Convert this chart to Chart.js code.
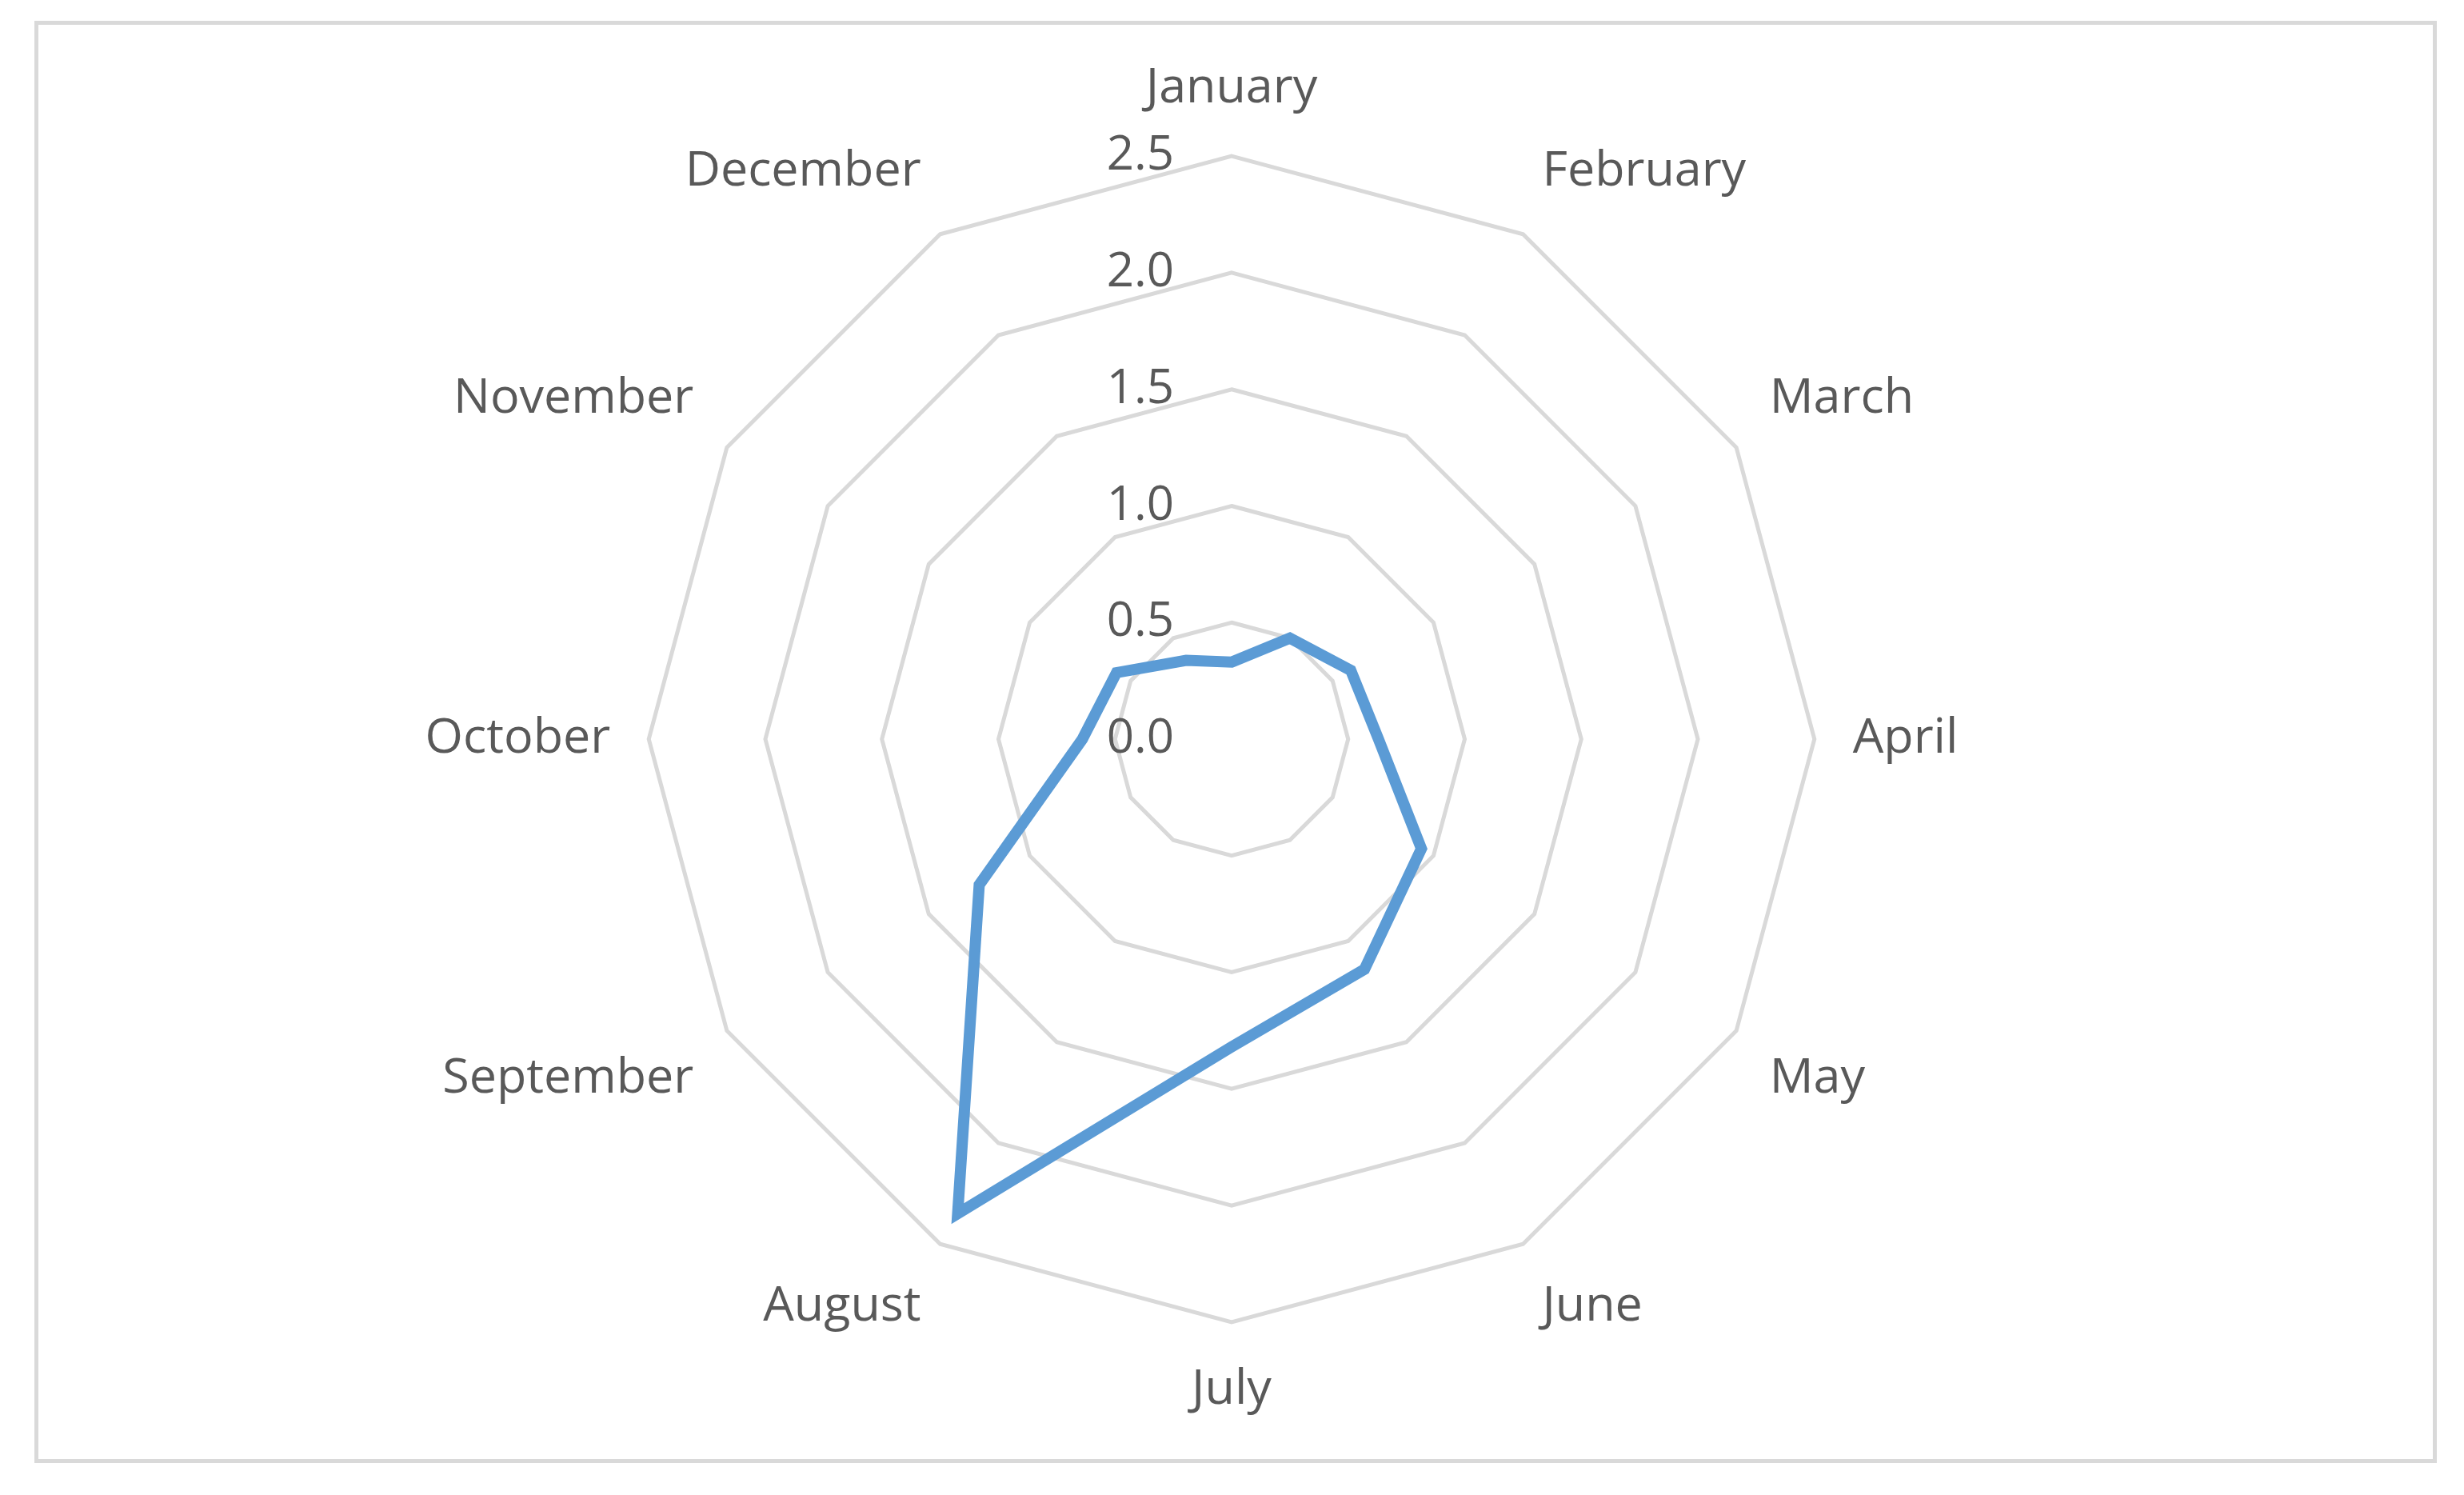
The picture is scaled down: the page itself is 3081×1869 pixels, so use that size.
<!DOCTYPE html>
<html><head><meta charset="utf-8">
<script src="https://cdn.jsdelivr.net/npm/chart.js@4"></script>
<style>
html,body{margin:0;padding:0;background:#fff;width:3081px;height:1869px;overflow:hidden}
#frame{position:absolute;left:43px;top:26px;width:2994px;height:1793px;border:5px solid #d9d9d9}
#wrap{position:absolute;left:0;top:55px;width:3081px;height:1740px}
</style></head><body>
<div id="frame"></div>
<div id="wrap"><canvas id="c"></canvas></div>
<script>
const categories=["January","February","March","April","May","June","July","August","September","October","November","December"];
const values=[0.33,0.50,0.59,0.63,0.94,1.14,1.32,2.35,1.25,0.64,0.57,0.39];
const tickLabels=["0.0","0.5","1.0","1.5","2.0","2.5"];
const tickPlugin={id:'tk',afterDraw(chart){const s=chart.scales.r;const ctx=chart.ctx;ctx.save();
ctx.font='60px "Open Sans", "Noto Sans", sans-serif';ctx.fillStyle='#595959';ctx.textAlign='right';ctx.textBaseline='middle';
tickLabels.forEach(t=>{const d=s.getDistanceFromCenterForValue(parseFloat(t));ctx.fillText(t,s.xCenter-72,s.yCenter-d);});ctx.restore();}};
new Chart(document.getElementById('c'),{type:'radar',
data:{labels:categories,datasets:[{data:values,borderColor:'#5B9BD5',borderWidth:14,fill:false,pointRadius:0,borderJoinStyle:'miter'}]},
options:{responsive:true,maintainAspectRatio:false,devicePixelRatio:1,animation:false,
plugins:{legend:{display:false},tooltip:{enabled:false}},
layout:{padding:{top:20,bottom:20}},
scales:{r:{min:0,max:2.5,ticks:{stepSize:0.5,display:false},
grid:{color:'#d9d9d9',lineWidth:5},angleLines:{display:false},
pointLabels:{color:'#595959',padding:48,font:{size:61,family:'"Open Sans", "Noto Sans", sans-serif'}}}}},
plugins:[tickPlugin]});
</script></body></html>
